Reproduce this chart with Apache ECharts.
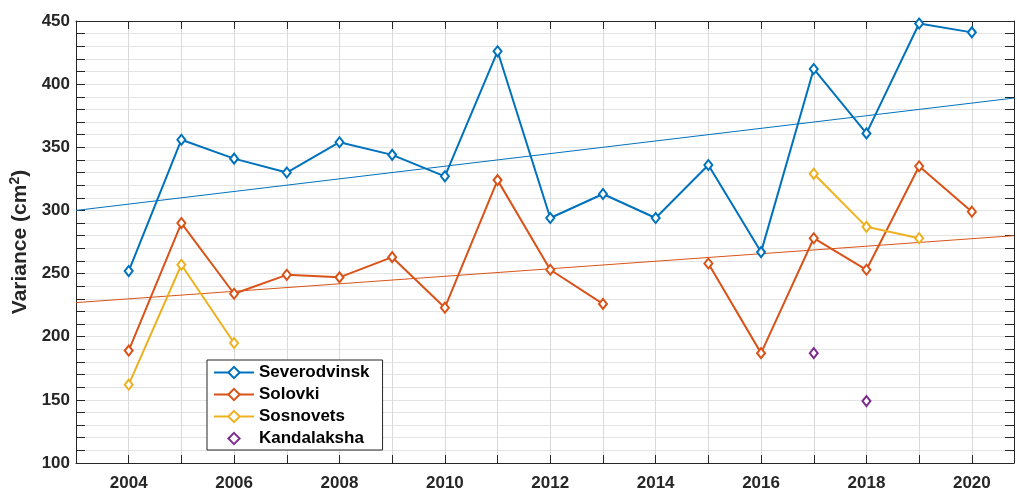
<!DOCTYPE html>
<html>
<head>
<meta charset="utf-8">
<script src="https://cdn.jsdelivr.net/npm/echarts@6/dist/echarts.min.js"></script>
<style>
  html, body { margin: 0; padding: 0; background: #fff; }
  #container { width: 1017px; height: 492px; }
</style>
</head>
<body>
<div id="container"></div>
<script>
var years = [2004, 2005, 2006, 2007, 2008, 2009, 2010, 2011, 2012, 2013, 2014, 2015, 2016, 2017, 2018, 2019, 2020];
var severodvinsk = [252, 356, 341, 330, 354, 344, 327, 426, 294, 313, 294, 336, 267, 412, 361, 448, 441];
var solovki = [189, 290, 234, 249, 247, 263, 223, 324, 253, 226, null, 258, 187, 278, 253, 335, 299];
var sosnovets = [162, 257, 195, null, null, null, null, null, null, null, null, null, null, 329, 287, 278, null];
var kandalaksha = [null, null, null, null, null, null, null, null, null, null, null, null, null, 187, 149, null, null];
// linear trends, read at both ends of the axis
var trendYears = [2003, 2020.8];
var trendSev = [300, 389];
var trendSol = [227, 280];

var names = ['Severodvinsk', 'Solovki', 'Sosnovets', 'Kandalaksha'];
var colors = ['#0072BD', '#D95319', '#EDB120', '#7E2F8E'];
var txt = '#262626';
var font = 'Liberation Sans';

function pairs(xs, ys) {
    return xs.map(function (x, i) { return [x, ys[i]]; });
}

var myChart = echarts.init(document.getElementById('container'));

function lineSeries(name, vals, color, noLine) {
    return {
        name: name,
        type: 'line',
        data: pairs(years, vals),
        symbol: 'emptyDiamond',
        symbolSize: [8, 10],
        showAllSymbol: true,
        lineStyle: { width: noLine ? 0 : 2, opacity: noLine ? 0 : 1, color: color },
        itemStyle: { color: color, borderWidth: 1.5 },
        connectNulls: false,
        z: 3
    };
}

function trendSeries(vals, color) {
    return {
        name: 'trend',
        type: 'line',
        data: pairs(trendYears, vals),
        symbol: 'none',
        lineStyle: { width: 1, color: color },
        silent: true,
        z: 2
    };
}

myChart.setOption({
    animation: false,
    color: colors,
    grid: { left: 76, right: 1, top: 21, bottom: 27 },
    legend: {
        data: names,
        orient: 'vertical',
        left: 207,
        top: 360,
        itemWidth: 40,
        itemHeight: 14,
        itemGap: 5,
        padding: [4, 13, 3, 6],
        borderColor: txt,
        borderWidth: 1,
        backgroundColor: '#fff',
        textStyle: { fontFamily: font, fontWeight: 'bold', fontSize: 17, color: '#000' }
    },
    xAxis: [{
        type: 'value',
        min: 2003,
        max: 2020.8,
        interval: 1,
        axisLine: { show: true, lineStyle: { color: txt } },
        axisTick: { show: true, inside: true, length: 8, lineStyle: { color: txt } },
        axisLabel: {
            margin: 12,
            fontFamily: font, fontWeight: 'bold', fontSize: 17, color: txt,
            formatter: function (v) {
                return (Math.abs(v - Math.round(v)) < 1e-6 && Math.round(v) % 2 === 0) ? String(Math.round(v)) : '';
            }
        },
        splitLine: { show: true, lineStyle: { color: '#dadada' } }
    }, {
        type: 'value',
        position: 'top',
        min: 2003,
        max: 2020.8,
        interval: 1,
        axisLine: { show: true, lineStyle: { color: txt } },
        axisTick: { show: true, inside: true, length: 8, lineStyle: { color: txt } },
        axisLabel: { show: false },
        splitLine: { show: false }
    }],
    yAxis: [{
        type: 'value',
        min: 100,
        max: 450,
        interval: 10,
        name: 'Variance (cm{sup|2})',
        nameLocation: 'middle',
        nameGap: 41,
        nameTextStyle: {
            fontFamily: font, fontWeight: 'bold', fontSize: 21, color: txt,
            rich: {
                sup: { fontFamily: font, fontWeight: 'bold', fontSize: 14, color: txt, padding: [0, 0, 10, 0] }
            }
        },
        axisLine: { show: true, lineStyle: { color: txt } },
        axisTick: { show: true, inside: true, length: 9, lineStyle: { color: txt } },
        axisLabel: {
            margin: 6,
            fontFamily: font, fontWeight: 'bold', fontSize: 17, color: txt,
            formatter: function (v) { return v % 50 === 0 ? String(v) : ''; }
        },
        splitLine: { show: true, lineStyle: { color: '#e3e3e3' } }
    }, {
        type: 'value',
        position: 'right',
        min: 100,
        max: 450,
        interval: 10,
        axisLine: { show: true, lineStyle: { color: txt } },
        axisTick: { show: true, inside: true, length: 9, lineStyle: { color: txt } },
        axisLabel: { show: false },
        splitLine: { show: false }
    }],
    series: [
        trendSeries(trendSev, colors[0]),
        trendSeries(trendSol, colors[1]),
        lineSeries(names[0], severodvinsk, colors[0]),
        lineSeries(names[1], solovki, colors[1]),
        lineSeries(names[2], sosnovets, colors[2]),
        lineSeries(names[3], kandalaksha, colors[3], true)
    ]
});
</script>
</body>
</html>
